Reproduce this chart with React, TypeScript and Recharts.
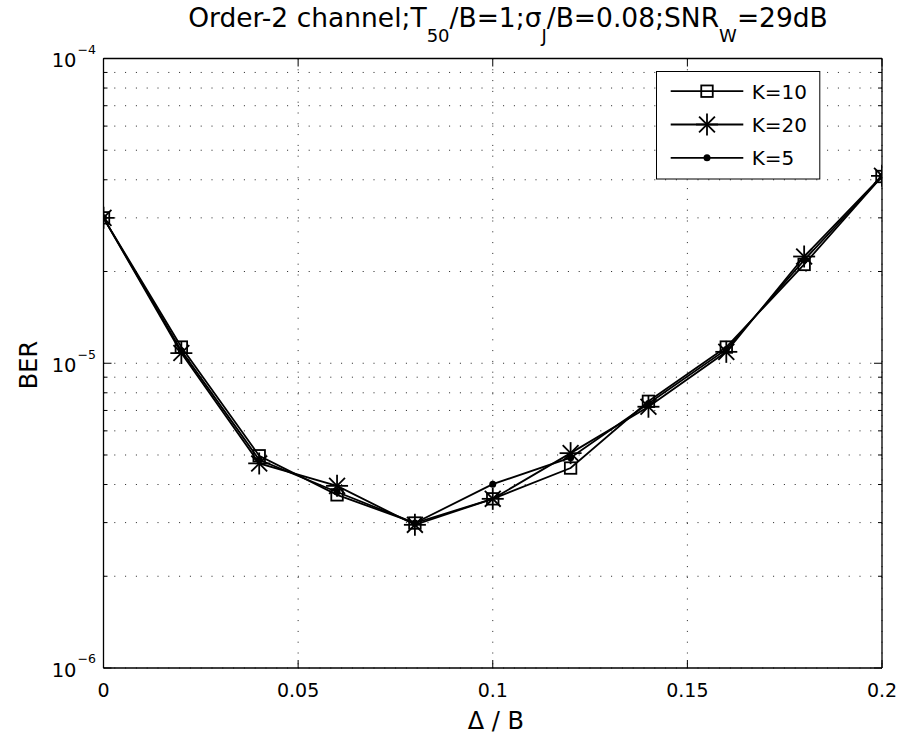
import React from 'react';
import { LineChart, Line, XAxis, YAxis, CartesianGrid, Legend, Customized } from 'recharts';

const deltaOverB = [0, 0.02, 0.04, 0.06, 0.08, 0.1, 0.12, 0.14, 0.16, 0.18, 0.2];
const berK10 = [3.0e-5, 1.13e-5, 4.97e-6, 3.7e-6, 2.99e-6, 3.59e-6, 4.53e-6, 7.5e-6, 1.13e-5, 2.11e-5, 4.1e-5];
const berK20 = [3.0e-5, 1.08e-5, 4.69e-6, 3.96e-6, 2.95e-6, 3.59e-6, 5.07e-6, 7.2e-6, 1.09e-5, 2.24e-5, 4.12e-5];
const berK5 = [3.0e-5, 1.1e-5, 4.82e-6, 3.78e-6, 2.99e-6, 4.01e-6, 4.9e-6, 7.38e-6, 1.11e-5, 2.18e-5, 4.1e-5];

const xTicks = [0, 0.05, 0.1, 0.15, 0.2];
const xTickLabels = ['0', '0.05', '0.1', '0.15', '0.2'];
const yDecades = [1e-6, 1e-5, 1e-4];
const yDecadeExponents = ['\u22126', '\u22125', '\u22124'];
const yTicks = [
  1e-6, 2e-6, 3e-6, 4e-6, 5e-6, 6e-6, 7e-6, 8e-6, 9e-6,
  1e-5, 2e-5, 3e-5, 4e-5, 5e-5, 6e-5, 7e-5, 8e-5, 9e-5,
  1e-4,
];
const seriesNames = ['K=10', 'K=20', 'K=5'];

const data = deltaOverB.map((x, i) => ({ x, k10: berK10[i], k20: berK20[i], k5: berK5[i] }));

const FONT = 'DejaVu Sans';
const INK = '#000';
const LINE_W = 1.8;
const MARK_W = 1.8;

const decadeIndex = (v: number) =>
  yDecades.findIndex((d) => Math.abs(Math.log10(d) - Math.log10(v)) < 1e-6);

const YTickLeft = (props: any) => {
  const { x, y, payload } = props;
  const di = decadeIndex(payload.value);
  const major = di >= 0;
  return (
    <g>
      <line x1={x} x2={x + (major ? 8 : 4)} y1={y} y2={y} stroke={INK} strokeWidth={1} />
      {major && (
        <g fontFamily={FONT} fill={INK}>
          <text x={x - 27} y={y + 8.6} textAnchor="end" fontSize={19.5}>10</text>
          <text x={x - 26} y={y - 4.6} textAnchor="start" fontSize={12.5}>{yDecadeExponents[di]}</text>
        </g>
      )}
    </g>
  );
};

const YTickRight = (props: any) => {
  const { x, y, payload } = props;
  const major = decadeIndex(payload.value) >= 0;
  return <line x1={x} x2={x - (major ? 8 : 4)} y1={y} y2={y} stroke={INK} strokeWidth={1} />;
};

const XTickBottom = (props: any) => {
  const { x, y, payload } = props;
  const i = xTicks.findIndex((t) => Math.abs(t - payload.value) < 1e-9);
  return (
    <g>
      <line x1={x} x2={x} y1={y} y2={y - 8} stroke={INK} strokeWidth={1} />
      <text x={x} y={y + 29} textAnchor="middle" fontSize={19} fontFamily={FONT} fill={INK}>
        {xTickLabels[i]}
      </text>
    </g>
  );
};

const XTickTop = (props: any) => {
  const { x, y } = props;
  return <line x1={x} x2={x} y1={y} y2={y + 8} stroke={INK} strokeWidth={1} />;
};

const Square = ({ cx, cy, size = 11.5 }: any) => (
  <rect x={cx - size / 2} y={cy - size / 2} width={size} height={size} fill="none" stroke={INK} strokeWidth={MARK_W} />
);
const Star = ({ cx, cy, r = 11 }: any) => {
  const d = r * 0.72;
  return (
    <g stroke={INK} strokeWidth={MARK_W}>
      <line x1={cx - r} x2={cx + r} y1={cy} y2={cy} />
      <line x1={cx} x2={cx} y1={cy - r} y2={cy + r} />
      <line x1={cx - d} x2={cx + d} y1={cy - d} y2={cy + d} />
      <line x1={cx - d} x2={cx + d} y1={cy + d} y2={cy - d} />
    </g>
  );
};
const Point = ({ cx, cy }: any) => <circle cx={cx} cy={cy} r={3.5} fill={INK} />;

const markers = [Square, Star, Point];

const LegendBox = () => (
  <svg width={166} height={110} style={{ display: 'block', overflow: 'visible' }}>
    <rect x={0.5} y={0.5} width={163.3} height={107.5} fill="#fff" stroke={INK} strokeWidth={1} />
    {seriesNames.map((name, i) => {
      const cy = 20.2 + i * 33.3;
      const M = markers[i];
      return (
        <g key={name}>
          <line x1={14.7} x2={87.3} y1={cy} y2={cy} stroke={INK} strokeWidth={LINE_W} />
          <M cx={51} cy={cy} />
          <text x={95.7} y={cy + 7.5} fontSize={20} fontFamily={FONT} fill={INK}>{name}</text>
        </g>
      );
    })}
  </svg>
);

const Labels = () => (
  <g fontFamily={FONT} fill={INK}>
    <text x={508} y={27} textAnchor="middle" fontSize={26.5}>
      <tspan>Order-2 channel;T</tspan>
      <tspan fontSize={18} dy={14.7}>50</tspan>
      <tspan dy={-14.7}>/B=1;σ</tspan>
      <tspan fontSize={18} dy={14.7}>J</tspan>
      <tspan dy={-14.7}>/B=0.08;SNR</tspan>
      <tspan fontSize={18} dy={14.7}>W</tspan>
      <tspan dy={-14.7}>=29dB</tspan>
    </text>
    <text x={495.8} y={729} textAnchor="middle" fontSize={24}>Δ / B</text>
    <text x={0} y={0} transform="translate(37,365) rotate(-90)" textAnchor="middle" fontSize={24}>BER</text>
  </g>
);

const axisLine = { stroke: INK, strokeWidth: 1.3 };

export default function App() {
  return (
    <div style={{ position: 'absolute', left: 0, top: 0, width: 901, height: 736, background: '#fff' }}>
      <LineChart
        width={901}
        height={736}
        data={data}
        margin={{ top: 0, right: 0, bottom: 0, left: 0 }}
      >
        <CartesianGrid stroke="#222" strokeWidth={1} strokeDasharray="1 9.8" />
        <XAxis
          dataKey="x"
          type="number"
          domain={[0, 0.2]}
          ticks={xTicks}
          interval={0}
          tickSize={0}
          tickMargin={0}
          height={68}
          tickLine={false}
          axisLine={axisLine}
          tick={<XTickBottom />}
          allowDataOverflow
        />
        <XAxis
          xAxisId="top"
          orientation="top"
          dataKey="x"
          type="number"
          domain={[0, 0.2]}
          ticks={xTicks}
          interval={0}
          tickSize={0}
          tickMargin={0}
          height={58.5}
          tickLine={false}
          axisLine={axisLine}
          tick={<XTickTop />}
          allowDataOverflow
        />
        <YAxis
          type="number"
          scale="log"
          domain={[1e-6, 1e-4]}
          ticks={yTicks}
          interval={0}
          tickSize={0}
          tickMargin={0}
          width={103.5}
          tickLine={false}
          axisLine={axisLine}
          tick={<YTickLeft />}
          allowDataOverflow
        />
        <YAxis
          yAxisId="right"
          orientation="right"
          type="number"
          scale="log"
          domain={[1e-6, 1e-4]}
          ticks={yTicks}
          interval={0}
          tickSize={0}
          tickMargin={0}
          width={19}
          tickLine={false}
          axisLine={axisLine}
          tick={<YTickRight />}
          allowDataOverflow
        />
        <Line
          dataKey="k10"
          name={seriesNames[0]}
          stroke={INK}
          strokeWidth={LINE_W}
          isAnimationActive={false}
          dot={(p: any) => <Square key={`s-${p.index}`} cx={p.cx} cy={p.cy} />}
        />
        <Line
          dataKey="k20"
          name={seriesNames[1]}
          stroke={INK}
          strokeWidth={LINE_W}
          isAnimationActive={false}
          dot={(p: any) => <Star key={`a-${p.index}`} cx={p.cx} cy={p.cy} />}
        />
        <Line
          dataKey="k5"
          name={seriesNames[2]}
          stroke={INK}
          strokeWidth={LINE_W}
          isAnimationActive={false}
          dot={(p: any) => <Point key={`p-${p.index}`} cx={p.cx} cy={p.cy} />}
        />
        <Legend
          layout="horizontal"
          verticalAlign="middle"
          align="center"
          content={<LegendBox />}
          wrapperStyle={{ position: 'absolute', left: 656, top: 70.5, width: 166, height: 110, margin: 0, padding: 0 }}
        />
        <Customized component={<Labels />} />
      </LineChart>
    </div>
  );
}
